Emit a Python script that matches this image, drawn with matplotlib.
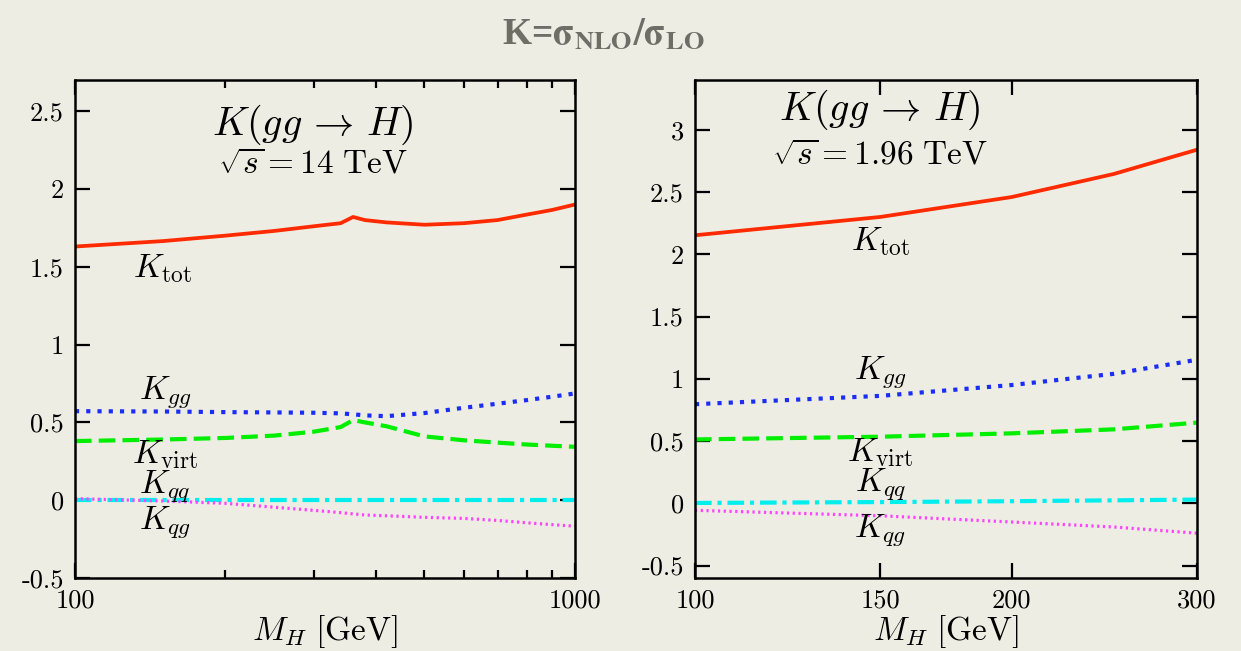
import matplotlib
matplotlib.use("Agg")
import matplotlib.pyplot as plt
from matplotlib.ticker import FixedLocator, NullFormatter, NullLocator

# LHC, sqrt(s) = 14 TeV
mh_lhc = [100, 150, 200, 250, 300, 340, 360, 380, 420, 500, 600, 700, 800, 900, 1000]
ktot_lhc = [1.63, 1.665, 1.70, 1.73, 1.76, 1.78, 1.82, 1.80, 1.785, 1.77, 1.78, 1.80, 1.835, 1.865, 1.90]
kgg_lhc = [0.572, 0.570, 0.566, 0.564, 0.562, 0.558, 0.552, 0.545, 0.540, 0.560, 0.594, 0.620, 0.643, 0.665, 0.686]
kvirt_lhc = [0.38, 0.39, 0.40, 0.415, 0.44, 0.47, 0.515, 0.50, 0.475, 0.41, 0.385, 0.37, 0.358, 0.35, 0.343]
kqq_lhc = [0.0, 0.0, 0.0, 0.0, 0.0, 0.0, 0.0, 0.0, 0.0, 0.0, 0.0, 0.0, 0.0, 0.0, 0.0]
kqg_lhc = [0.01, -0.005, -0.02, -0.045, -0.065, -0.08, -0.088, -0.095, -0.10, -0.11, -0.117, -0.13, -0.145, -0.157, -0.167]

# Tevatron, sqrt(s) = 1.96 TeV
mh_tev = [100, 150, 200, 250, 300]
ktot_tev = [2.153, 2.30, 2.46, 2.645, 2.84]
kgg_tev = [0.796, 0.863, 0.95, 1.04, 1.153]
kvirt_tev = [0.513, 0.535, 0.562, 0.594, 0.648]
kqq_tev = [0.003, 0.01, 0.017, 0.024, 0.03]
kqg_tev = [-0.056, -0.10, -0.15, -0.19, -0.24]

yticks_lhc = [-0.5, 0, 0.5, 1, 1.5, 2, 2.5]
yticks_tev = [-0.5, 0, 0.5, 1, 1.5, 2, 2.5, 3]
xticks_tev = [100, 150, 200, 300]

plt.rcParams["mathtext.fontset"] = "cm"
plt.rcParams["font.family"] = "cmr10"

fondo = "#eeede3"
fig = plt.figure(figsize=(12.41, 6.51), dpi=100, facecolor=fondo)

ax1 = fig.add_axes([0.0604, 0.1121, 0.4029, 0.765])
ax2 = fig.add_axes([0.56, 0.1121, 0.4045, 0.765])


def dibujar(ax, mh, ktot, kgg, kvirt, kqq, kqg):
    ax.set_facecolor("none")
    ax.plot(mh, ktot, color="#ff2a00", lw=2.7)
    ax.plot(mh, kgg, color="#1a2df5", lw=3.0, linestyle=(0, (1.0, 1.7)))
    ax.plot(mh, kvirt, color="#00ee00", lw=3.0, linestyle=(0, (4.0, 1.7)))
    ax.plot(mh, kqq, color="#00eeee", lw=3.0, linestyle=(0, (4.0, 1.4, 1.0, 1.4)))
    ax.plot(mh, kqg, color="#ff44ff", lw=2.3, linestyle=(0, (0.7, 1.1)))
    ax.set_xscale("log")
    for lado in ax.spines.values():
        lado.set_linewidth(1.8)
    ax.tick_params(which="both", direction="in", top=True, right=True,
                   labelsize=19, pad=8)
    ax.tick_params(which="major", length=10.8, width=1.6)
    ax.tick_params(which="minor", length=5.8, width=1.6)
    ax.set_xlabel(r"$M_H\ [\mathrm{GeV}]$", fontsize=24, labelpad=0)


dibujar(ax1, mh_lhc, ktot_lhc, kgg_lhc, kvirt_lhc, kqq_lhc, kqg_lhc)
dibujar(ax2, mh_tev, ktot_tev, kgg_tev, kvirt_tev, kqq_tev, kqg_tev)

# panel izquierdo
ax1.set_xlim(100, 1000)
ax1.set_ylim(-0.5, 2.7)
ax1.xaxis.set_major_locator(FixedLocator([100, 1000]))
ax1.set_xticklabels(["100", "1000"])
ax1.xaxis.set_minor_locator(FixedLocator(list(range(200, 1000, 100))))
ax1.xaxis.set_minor_formatter(NullFormatter())
ax1.set_yticks(yticks_lhc)
ax1.set_yticklabels([f"{v:g}" for v in yticks_lhc])

# panel derecho
ax2.set_xlim(100, 300)
ax2.set_ylim(-0.6, 3.4)
ax2.xaxis.set_major_locator(FixedLocator(xticks_tev))
ax2.set_xticklabels([str(v) for v in xticks_tev])
ax2.xaxis.set_minor_locator(NullLocator())
ax2.set_yticks(yticks_tev)
ax2.set_yticklabels([f"{v:g}" for v in yticks_tev])

# textos
ax1.text(0.476, 0.91, r"$K(gg \,\to\, H)$", transform=ax1.transAxes, ha="center", va="center", fontsize=29)
ax1.text(0.476, 0.833, r"$\sqrt{s} = 14\ \mathrm{TeV}$", transform=ax1.transAxes, ha="center", va="center", fontsize=24)
ax2.text(0.369, 0.94, r"$K(gg \,\to\, H)$", transform=ax2.transAxes, ha="center", va="center", fontsize=29)
ax2.text(0.369, 0.85, r"$\sqrt{s} = 1.96\ \mathrm{TeV}$", transform=ax2.transAxes, ha="center", va="center", fontsize=24)

etiquetas = [r"$K_{\mathrm{tot}}$", r"$K_{gg}$", r"$K_{\mathrm{virt}}$", r"$K_{qq}$", r"$K_{qg}$"]
pos_lhc = [(0.174, 0.622), (0.18, 0.373), (0.18, 0.247), (0.18, 0.185), (0.18, 0.112)]
pos_tev = [(0.369, 0.675), (0.369, 0.414), (0.369, 0.251), (0.369, 0.189), (0.369, 0.096)]
for et, (x, y) in zip(etiquetas, pos_lhc):
    ax1.text(x, y, et, transform=ax1.transAxes, ha="center", va="center", fontsize=24)
for et, (x, y) in zip(etiquetas, pos_tev):
    ax2.text(x, y, et, transform=ax2.transAxes, ha="center", va="center", fontsize=24)

fig.text(0.486, 0.947, r"K=$\mathbf{\sigma_{NLO}/\sigma_{LO}}$", ha="center", va="center",
         fontsize=27, color="#6e6d66", family="Liberation Serif", weight="bold",
         math_fontfamily="stix")

fig.savefig("out.png", dpi=100, facecolor=fondo)
